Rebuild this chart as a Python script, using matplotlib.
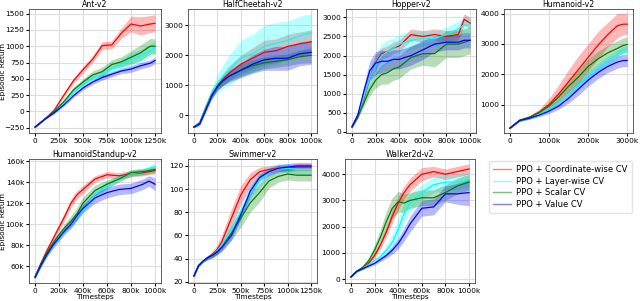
import matplotlib
matplotlib.use('Agg')
import matplotlib.pyplot as plt
from matplotlib.ticker import FuncFormatter
import numpy as np

methods = ['PPO + Coordinate-wise CV', 'PPO + Layer-wise CV', 'PPO + Scalar CV', 'PPO + Value CV']
colors = ['red', 'cyan', 'green', 'blue']

# timesteps in thousands
ant_x = [0, 100, 200, 300, 400, 500, 600, 700, 800, 900, 1000, 1100, 1200, 1250]
ant_coord = [-240, -120, 20, 250, 470, 640, 800, 1010, 1020, 1200, 1340, 1310, 1340, 1350]
ant_coord_sd = [10, 10, 20, 30, 40, 50, 50, 60, 60, 80, 120, 140, 130, 130]
ant_layer = [-240, -120, -10, 130, 290, 410, 510, 560, 660, 720, 800, 850, 930, 980]
ant_layer_sd = [10, 10, 15, 25, 30, 40, 50, 60, 70, 80, 100, 100, 100, 100]
ant_scalar = [-240, -120, 0, 150, 330, 450, 560, 610, 720, 760, 830, 900, 1000, 1000]
ant_scalar_sd = [10, 10, 20, 30, 40, 50, 60, 70, 70, 80, 100, 120, 120, 110]
ant_value = [-240, -120, -20, 100, 240, 360, 450, 520, 570, 620, 650, 700, 740, 780]
ant_value_sd = [10, 10, 15, 20, 25, 30, 35, 40, 40, 40, 50, 50, 50, 50]

hc_x = [0, 50, 100, 150, 200, 250, 300, 400, 500, 600, 700, 800, 900, 1000]
hc_coord = [-400, -250, 250, 700, 1000, 1200, 1400, 1700, 1900, 2100, 2150, 2300, 2380, 2450]
hc_coord_sd = [30, 50, 100, 150, 150, 200, 250, 300, 350, 400, 400, 400, 400, 400]
hc_layer = [-400, -250, 250, 720, 1050, 1300, 1500, 1900, 2050, 2300, 2400, 2500, 2650, 2750]
hc_layer_sd = [30, 50, 100, 200, 300, 400, 500, 600, 650, 700, 700, 650, 650, 650]
hc_scalar = [-400, -270, 200, 650, 950, 1150, 1300, 1500, 1650, 1750, 1800, 1850, 1950, 2000]
hc_scalar_sd = [30, 50, 80, 100, 120, 150, 150, 200, 200, 200, 200, 200, 220, 250]
hc_value = [-400, -300, 150, 620, 950, 1150, 1300, 1500, 1700, 1850, 1900, 1900, 2050, 2100]
hc_value_sd = [30, 50, 80, 100, 120, 150, 200, 250, 300, 350, 400, 400, 400, 400]

hop_x = [0, 50, 100, 150, 200, 250, 300, 350, 400, 500, 600, 700, 800, 900, 950, 1000]
hop_coord = [130, 400, 850, 1400, 1800, 2050, 2100, 2200, 2250, 2550, 2500, 2550, 2500, 2550, 2950, 2850]
hop_coord_sd = [30, 50, 100, 150, 200, 150, 150, 150, 150, 150, 150, 150, 150, 150, 150, 150]
hop_layer = [130, 420, 900, 1400, 1750, 2000, 2100, 2200, 2300, 2400, 2450, 2450, 2550, 2700, 2800, 2800]
hop_layer_sd = [30, 60, 150, 250, 300, 300, 300, 250, 250, 250, 200, 200, 200, 200, 200, 200]
hop_scalar = [130, 400, 750, 1100, 1350, 1500, 1550, 1650, 1700, 1950, 2050, 2050, 2300, 2300, 2350, 2400]
hop_scalar_sd = [30, 50, 100, 150, 200, 250, 300, 300, 300, 300, 300, 350, 350, 350, 350, 350]
hop_value = [130, 450, 1050, 1600, 1800, 1850, 1850, 1900, 1900, 2000, 2150, 2300, 2350, 2350, 2400, 2400]
hop_value_sd = [30, 60, 150, 250, 300, 300, 250, 250, 250, 250, 250, 200, 200, 200, 200, 200]

hum_x = [0, 250, 500, 750, 1000, 1250, 1500, 1750, 2000, 2250, 2500, 2750, 2900, 3000]
hum_coord = [220, 480, 580, 750, 1000, 1350, 1750, 2150, 2550, 2950, 3300, 3600, 3650, 3650]
hum_coord_sd = [20, 30, 50, 100, 200, 300, 400, 450, 450, 450, 400, 400, 350, 350]
hum_layer = [220, 470, 560, 680, 850, 1050, 1350, 1650, 1950, 2200, 2450, 2650, 2800, 2800]
hum_layer_sd = [20, 30, 40, 50, 80, 100, 120, 150, 150, 150, 150, 150, 150, 150]
hum_scalar = [220, 480, 580, 730, 950, 1250, 1600, 1900, 2250, 2500, 2700, 2850, 2950, 2980]
hum_scalar_sd = [20, 30, 40, 60, 100, 150, 200, 250, 250, 250, 250, 250, 250, 250]
hum_value = [220, 470, 550, 650, 780, 950, 1200, 1500, 1800, 2050, 2250, 2400, 2450, 2450]
hum_value_sd = [20, 30, 40, 50, 80, 100, 150, 200, 200, 200, 200, 200, 200, 200]

# HumanoidStandup returns in thousands
hs_x = [0, 50, 100, 150, 200, 250, 300, 350, 400, 500, 600, 700, 800, 900, 950, 1000]
hs_coord = [50, 63, 75, 86, 97, 108, 120, 128, 133, 143, 147, 146, 148, 149, 150, 151]
hs_coord_sd = [1, 2, 3, 3, 3, 4, 4, 4, 4, 3, 3, 3, 3, 3, 3, 3]
hs_layer = [50, 61, 71, 80, 87, 94, 100, 107, 114, 128, 137, 144, 148, 150, 153, 155]
hs_layer_sd = [1, 2, 2, 3, 3, 3, 3, 4, 4, 4, 4, 3, 3, 3, 3, 3]
hs_scalar = [50, 62, 73, 82, 90, 97, 103, 110, 120, 132, 138, 143, 149, 150, 151, 152]
hs_scalar_sd = [1, 2, 2, 3, 3, 4, 5, 6, 6, 5, 4, 3, 3, 3, 3, 3]
hs_value = [49, 61, 71, 80, 87, 94, 100, 108, 115, 125, 130, 133, 134, 138, 141, 138]
hs_value_sd = [1, 2, 2, 3, 3, 3, 4, 4, 4, 5, 5, 5, 5, 5, 5, 6]

sw_x = [0, 50, 100, 150, 200, 250, 300, 400, 500, 600, 700, 800, 900, 1000, 1100, 1250]
sw_coord = [25, 34, 38, 41, 44, 48, 55, 75, 95, 108, 115, 117, 118, 118, 119, 119]
sw_coord_sd = [1, 1, 1, 2, 3, 4, 6, 8, 8, 6, 4, 3, 3, 3, 3, 3]
sw_layer = [25, 34, 38, 41, 43, 47, 52, 65, 80, 97, 108, 115, 118, 118, 117, 117]
sw_layer_sd = [1, 1, 1, 2, 2, 3, 4, 6, 7, 7, 6, 5, 4, 4, 4, 4]
sw_scalar = [25, 34, 38, 41, 43, 46, 50, 62, 75, 88, 97, 107, 111, 113, 112, 112]
sw_scalar_sd = [1, 1, 1, 2, 2, 3, 4, 6, 8, 8, 8, 6, 5, 5, 5, 5]
sw_value = [25, 34, 38, 41, 43, 46, 50, 60, 78, 98, 110, 115, 118, 119, 120, 120]
sw_value_sd = [1, 1, 1, 1, 2, 2, 3, 4, 4, 4, 3, 3, 3, 3, 3, 3]

wk_x = [0, 50, 100, 150, 200, 250, 300, 350, 400, 450, 500, 600, 700, 800, 900, 1000]
wk_coord = [80, 300, 420, 600, 900, 1300, 1800, 2400, 2900, 3300, 3600, 4000, 4100, 4000, 4100, 4200]
wk_coord_sd = [20, 30, 50, 80, 100, 150, 200, 250, 250, 250, 250, 250, 200, 200, 200, 200]
wk_layer = [80, 300, 420, 550, 700, 850, 1100, 1400, 1900, 2500, 2900, 3300, 3600, 3700, 3700, 3800]
wk_layer_sd = [20, 30, 50, 80, 100, 150, 200, 300, 400, 400, 350, 300, 300, 300, 300, 300]
wk_scalar = [80, 300, 450, 700, 1100, 1600, 2200, 2700, 2950, 2900, 3000, 3100, 3100, 3300, 3550, 3700]
wk_scalar_sd = [20, 30, 60, 100, 200, 300, 400, 400, 400, 350, 300, 300, 300, 300, 300, 300]
wk_value = [80, 300, 400, 500, 600, 750, 900, 1100, 1350, 1700, 2100, 2700, 2750, 3250, 3250, 3300]
wk_value_sd = [20, 30, 40, 50, 60, 80, 100, 150, 200, 250, 300, 300, 300, 300, 400, 500]

envs = [
    ('Ant-v2', ant_x, [(ant_coord, ant_coord_sd), (ant_layer, ant_layer_sd), (ant_scalar, ant_scalar_sd), (ant_value, ant_value_sd)]),
    ('HalfCheetah-v2', hc_x, [(hc_coord, hc_coord_sd), (hc_layer, hc_layer_sd), (hc_scalar, hc_scalar_sd), (hc_value, hc_value_sd)]),
    ('Hopper-v2', hop_x, [(hop_coord, hop_coord_sd), (hop_layer, hop_layer_sd), (hop_scalar, hop_scalar_sd), (hop_value, hop_value_sd)]),
    ('Humanoid-v2', hum_x, [(hum_coord, hum_coord_sd), (hum_layer, hum_layer_sd), (hum_scalar, hum_scalar_sd), (hum_value, hum_value_sd)]),
    ('HumanoidStandup-v2', hs_x, [(hs_coord, hs_coord_sd), (hs_layer, hs_layer_sd), (hs_scalar, hs_scalar_sd), (hs_value, hs_value_sd)]),
    ('Swimmer-v2', sw_x, [(sw_coord, sw_coord_sd), (sw_layer, sw_layer_sd), (sw_scalar, sw_scalar_sd), (sw_value, sw_value_sd)]),
    ('Walker2d-v2', wk_x, [(wk_coord, wk_coord_sd), (wk_layer, wk_layer_sd), (wk_scalar, wk_scalar_sd), (wk_value, wk_value_sd)]),
]

xticks = {
    'Ant-v2': [0, 250, 500, 750, 1000, 1250],
    'HalfCheetah-v2': [0, 200, 400, 600, 800, 1000],
    'Hopper-v2': [0, 200, 400, 600, 800, 1000],
    'Humanoid-v2': [0, 1000, 2000, 3000],
    'HumanoidStandup-v2': [0, 200, 400, 600, 800, 1000],
    'Swimmer-v2': [0, 250, 500, 750, 1000, 1250],
    'Walker2d-v2': [0, 200, 400, 600, 800, 1000],
}
yticks = {
    'Ant-v2': [-250, 0, 250, 500, 750, 1000, 1250, 1500],
    'HalfCheetah-v2': [0, 1000, 2000, 3000],
    'Hopper-v2': [0, 500, 1000, 1500, 2000, 2500, 3000],
    'Humanoid-v2': [1000, 2000, 3000, 4000],
    'HumanoidStandup-v2': [60, 80, 100, 120, 140, 160],
    'Swimmer-v2': [20, 40, 60, 80, 100, 120],
    'Walker2d-v2': [0, 1000, 2000, 3000, 4000],
}
ylims = {
    'Ant-v2': (-330, 1570),
    'HalfCheetah-v2': (-600, 3550),
    'Hopper-v2': (-30, 3220),
    'Humanoid-v2': (60, 4150),
    'HumanoidStandup-v2': (44, 162),
    'Swimmer-v2': (19, 126),
    'Walker2d-v2': (-150, 4580),
}

# axes boxes in pixels: left, top, right, bottom
W, H = 640, 301
boxes = [(29, 9, 161, 133), (188, 9, 317, 133), (346, 9, 476, 133), (504, 9, 633, 133),
         (29, 159, 161, 283), (188, 159, 317, 283), (345, 159, 475, 283)]

kfmt = FuncFormatter(lambda v, p: '0' if v == 0 else '%dk' % v)

fs = 5.3
plt.rcParams['font.size'] = fs
fig = plt.figure(figsize=(6.4, 3.01), dpi=100)

for i, (name, x, series) in enumerate(envs):
    l, t, r, b = boxes[i]
    ax = fig.add_axes([l / W, 1 - b / H, (r - l) / W, (b - t) / H])
    for (m, sd), c in zip(series, colors):
        m = np.array(m, dtype=float)
        sd = np.array(sd, dtype=float)
        ax.fill_between(x, m - sd, m + sd, color=c, alpha=0.28, lw=0)
        ax.plot(x, m, color=c, lw=0.9)
    ax.set_title(name, fontsize=5.6, pad=1.5)
    ax.set_xticks(xticks[name])
    ax.xaxis.set_major_formatter(kfmt)
    ax.set_yticks(yticks[name])
    if name == 'HumanoidStandup-v2':
        ax.yaxis.set_major_formatter(kfmt)
    ax.set_ylim(*ylims[name])
    xr = x[-1]
    ax.set_xlim(-0.05 * xr, 1.05 * xr)
    ax.grid(True, color='#dddddd', lw=0.8)
    ax.set_axisbelow(True)
    ax.tick_params(length=2, pad=1.5, labelsize=fs)
    for s in ax.spines.values():
        s.set_color('#444444')
        s.set_linewidth(0.6)
    if i in (0, 4):
        ax.set_ylabel('Episodic Return', fontsize=fs)
        ax.yaxis.set_label_coords(-(l - 6) / (r - l), 0.5)
    if i >= 4:
        ax.set_xlabel('Timesteps', fontsize=fs, labelpad=0)

handles = [plt.Line2D([], [], color=c, lw=1, alpha=0.5) for c in colors]
fig.legend(handles, methods, loc='upper left', bbox_to_anchor=(489 / W, 1 - 161 / H),
           fontsize=6.0, frameon=True, handlelength=2.1, handletextpad=0.7,
           borderpad=0.5, labelspacing=0.3, borderaxespad=0,
           edgecolor='#dddddd', fancybox=True)

fig.savefig('out.png', dpi=100)
